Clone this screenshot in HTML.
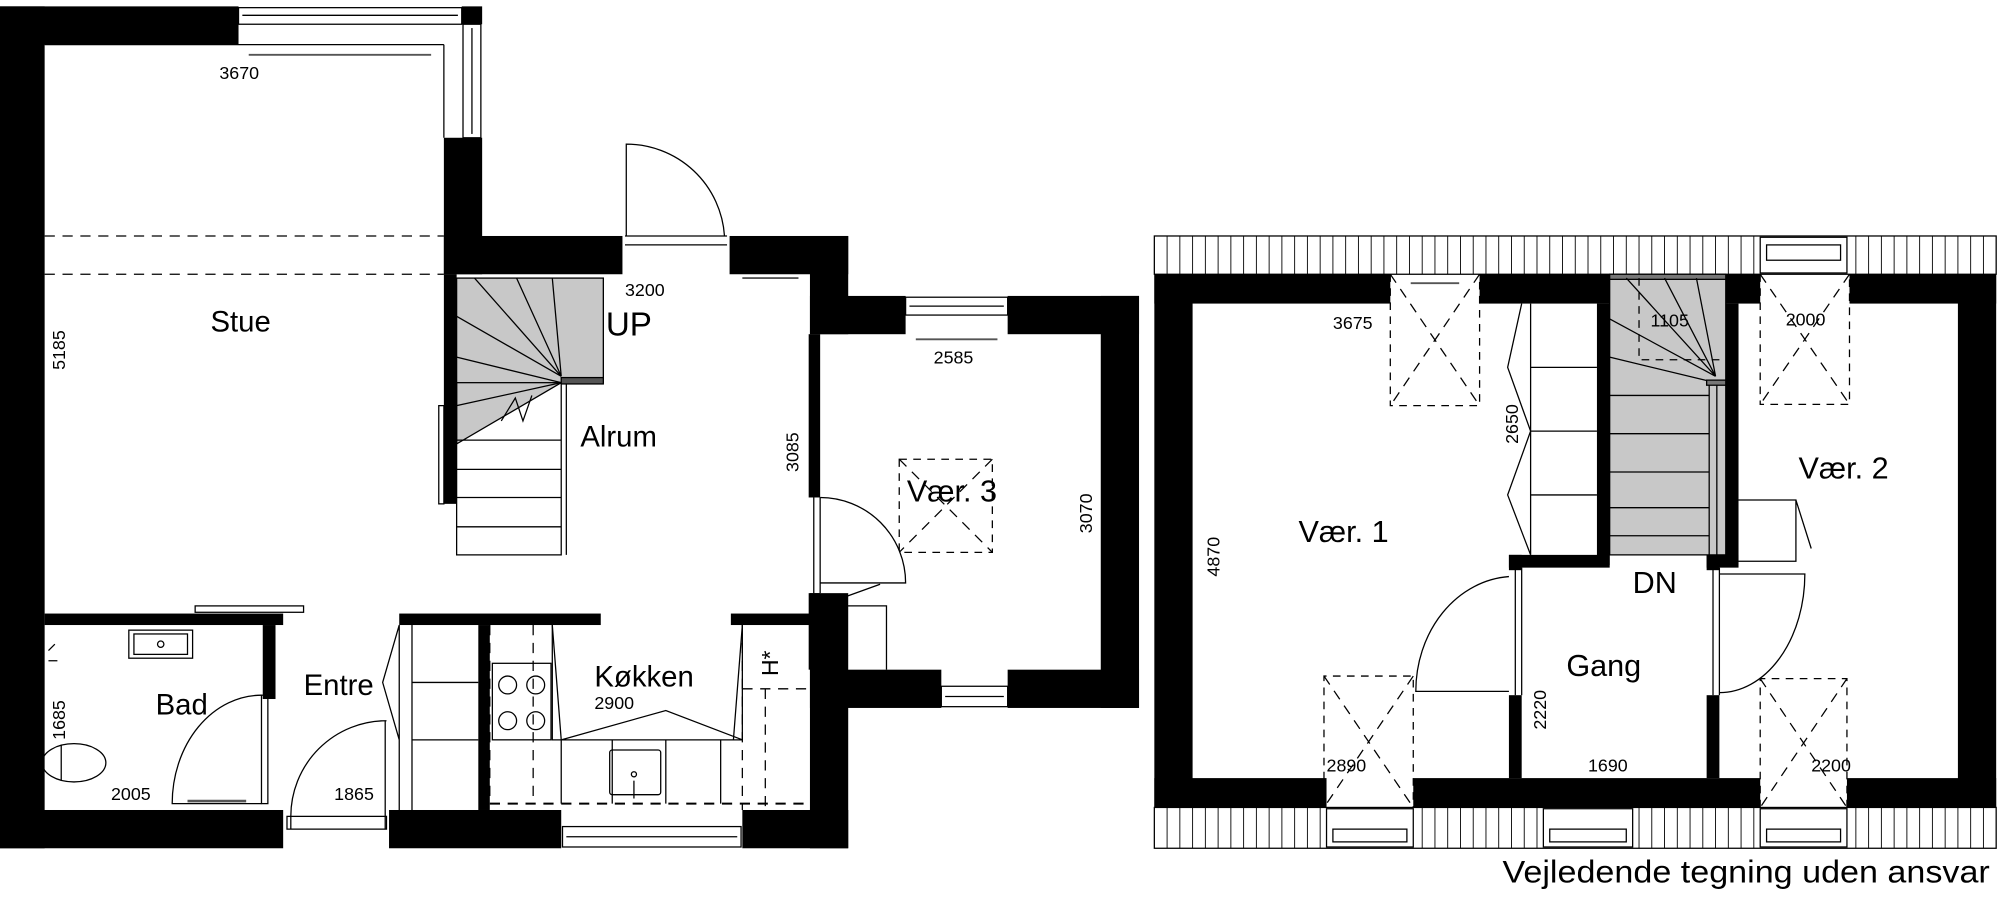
<!DOCTYPE html>
<html><head><meta charset="utf-8"><style>
html,body{margin:0;padding:0;background:#fff;}
svg{display:block;}
text{font-family:"Liberation Sans",sans-serif;fill:#000;}
</style></head><body>
<svg width="2000" height="910" viewBox="0 0 1568 713.4" preserveAspectRatio="none" xmlns="http://www.w3.org/2000/svg">
<rect width="1568" height="713.4" fill="#fff"/>
<g fill="#000">
<rect x="0" y="5" width="35" height="660"/>
<rect x="0" y="5" width="187" height="30"/>
<rect x="362" y="5" width="16" height="14"/>
<rect x="348" y="108" width="30" height="107"/>
<rect x="348" y="185" width="140" height="30"/>
<rect x="572" y="185" width="93" height="30"/>
<rect x="635" y="185" width="30" height="77"/>
<rect x="635" y="232" width="75" height="30"/>
<rect x="790" y="232" width="103" height="30"/>
<rect x="863" y="232" width="30" height="323"/>
<rect x="635" y="525" width="103" height="30"/>
<rect x="790" y="525" width="103" height="30"/>
<rect x="634" y="262" width="9" height="128"/>
<rect x="634" y="465" width="9" height="60"/>
<rect x="635" y="465" width="30" height="200"/>
<rect x="0" y="635" width="222" height="30"/>
<rect x="305" y="635" width="135" height="30"/>
<rect x="582" y="635" width="83" height="30"/>
<rect x="35" y="481" width="187" height="9"/>
<rect x="206" y="490" width="10" height="58"/>
<rect x="313" y="481" width="158" height="9"/>
<rect x="573" y="481" width="62" height="9"/>
<rect x="375" y="490" width="9" height="145"/>
<rect x="348" y="215" width="10" height="180"/>
<rect x="905" y="215" width="185" height="23"/>
<rect x="1160" y="215" width="102" height="23"/>
<rect x="1353" y="215" width="27" height="23"/>
<rect x="1450" y="215" width="115" height="23"/>
<rect x="905" y="215" width="30" height="418"/>
<rect x="1535" y="215" width="30" height="418"/>
<rect x="905" y="610" width="135" height="23"/>
<rect x="1108" y="610" width="272" height="23"/>
<rect x="1448" y="610" width="117" height="23"/>
<rect x="1252" y="238" width="10" height="205"/>
<rect x="1353" y="238" width="10" height="205"/>
<rect x="1183" y="435" width="79" height="10"/>
<rect x="1338" y="435" width="25" height="10"/>
<rect x="1183" y="435" width="10" height="12"/>
<rect x="1183" y="545" width="10" height="65"/>
<rect x="1338" y="435" width="10" height="12"/>
<rect x="1338" y="545" width="10" height="65"/>
</g>
<g fill="none" stroke="#000" stroke-width="1">
<rect x="187" y="6" width="175" height="13"/><line x1="190" y1="12" x2="359" y2="12"/>
<rect x="363" y="19" width="14" height="89"/><line x1="370" y1="22" x2="370" y2="105"/>
<line x1="35" y1="35" x2="348" y2="35"/><line x1="348" y1="35" x2="348" y2="108"/>
<line x1="195" y1="43" x2="338" y2="43" stroke-width="1.5" stroke="#555"/>
<line x1="35" y1="185" x2="348" y2="185" stroke-dasharray="8,6"/>
<line x1="35" y1="215" x2="348" y2="215" stroke-dasharray="8,6"/>
<line x1="490" y1="185" x2="570" y2="185"/><line x1="490" y1="192" x2="570" y2="192"/>
<path d="M491 185 V113 A77 77 0 0 1 568 185"/>
<line x1="582" y1="218" x2="626" y2="218" stroke-width="1.5" stroke="#555"/>
<rect x="358" y="218" width="115" height="82" fill="#c8c8c8"/>
<path d="M358 218 H473 V300 H440 L358 348 Z" fill="#c8c8c8"/>
<path d="M372 218 L440 295 M405 218 L440 295 M433 218 L440 295 M358 248 L440 295 M358 280 L440 300 M358 318 L440 300"/>
<path d="M393 330 L404 312 L410 330 L417 310" />
<rect x="358" y="300" width="82" height="135"/>
<line x1="358" y1="345" x2="440" y2="345"/><line x1="358" y1="368" x2="440" y2="368"/><line x1="358" y1="390" x2="440" y2="390"/><line x1="358" y1="413" x2="440" y2="413"/>
<line x1="444" y1="300" x2="444" y2="435"/>
<rect x="440" y="296" width="33" height="5" fill="#555"/>
<rect x="344" y="318" width="4" height="77"/>
<rect x="710" y="233" width="80" height="14"/><line x1="713" y1="240" x2="787" y2="240"/>
<line x1="718" y1="266" x2="782" y2="266" stroke-width="1.5" stroke="#555"/>
<rect x="738" y="538" width="52" height="16"/><line x1="741" y1="546" x2="787" y2="546"/>
<rect x="705" y="360" width="73" height="73" stroke-dasharray="6,5"/>
<path d="M705 360 L778 433 M778 360 L705 433" stroke-dasharray="8,6"/>
<line x1="643" y1="390" x2="643" y2="465"/><line x1="638" y1="390" x2="638" y2="465"/>
<path d="M643 390 A67 67 0 0 1 710 457 H643"/>
<path d="M643 475 L690 458 M643 475 H695 V525"/>
<rect x="153" y="475" width="85" height="5"/>
<rect x="101" y="494" width="50" height="22"/><rect x="105" y="497" width="42" height="16"/>
<circle cx="126" cy="505" r="2.5"/>
<ellipse cx="58" cy="598" rx="25" ry="15"/><path d="M48 584 V612"/>
<path d="M38 510 L43 505 M38 518 H45"/>
<path d="M205 545 A70 85 0 0 0 135 630 H205"/>
<rect x="205" y="545" width="5" height="85"/>
<line x1="147" y1="628" x2="193" y2="628" stroke-width="2" stroke="#555"/>
<rect x="212" y="502" width="3" height="40"/>
<path d="M303 565 A75 75 0 0 0 228 640"/>
<line x1="228" y1="640" x2="228" y2="650"/><line x1="302" y1="565" x2="302" y2="650"/>
<rect x="225" y="640" width="78" height="10"/>
<path d="M313 490 V635 M313 490 L300 535 L313 580 M323 490 V635 M323 535 H375 M323 580 H375"/>
<path d="M384 490 V630 M418 490 V630" stroke-dasharray="8,6"/>
<rect x="386" y="520" width="46" height="60"/>
<circle cx="398" cy="537" r="7"/><circle cx="420" cy="537" r="7"/><circle cx="398" cy="565" r="7"/><circle cx="420" cy="565" r="7"/>
<path d="M433 490 V580 H582 V490 M440 580 L522 557 L582 580 M440 580 V630 M480 580 V630 M522 580 V630 M565 580 V630"/>
<rect x="478" y="588" width="40" height="35" rx="2"/><circle cx="497" cy="607" r="2"/><line x1="497" y1="612" x2="497" y2="626"/>
<path d="M433 490 L440 580 M582 490 L575 580"/>
<path d="M384 630 H635" stroke-dasharray="8,6" stroke-width="1.5"/>
<path d="M582 490 V635 M582 540 H635 M600 540 V635" stroke-dasharray="8,6"/>
<rect x="441" y="648" width="140" height="16"/><line x1="444" y1="656" x2="578" y2="656"/>
<rect x="905" y="185" width="660" height="30"/>
<rect x="905" y="633" width="660" height="32"/>
</g>
<g stroke="#000" stroke-width="0.7">
<path d="M915 185V215M925 185V215M935 185V215M945 185V215M955 185V215M965 185V215M975 185V215M985 185V215M995 185V215M1005 185V215M1015 185V215M1025 185V215M1035 185V215M1045 185V215M1055 185V215M1065 185V215M1075 185V215M1085 185V215M1095 185V215M1105 185V215M1115 185V215M1125 185V215M1135 185V215M1145 185V215M1155 185V215M1165 185V215M1175 185V215M1185 185V215M1195 185V215M1205 185V215M1215 185V215M1225 185V215M1235 185V215M1245 185V215M1255 185V215M1265 185V215M1275 185V215M1285 185V215M1295 185V215M1305 185V215M1315 185V215M1325 185V215M1335 185V215M1345 185V215M1355 185V215M1365 185V215M1375 185V215M1455 185V215M1465 185V215M1475 185V215M1485 185V215M1495 185V215M1505 185V215M1515 185V215M1525 185V215M1535 185V215M1545 185V215M1555 185V215"/>
<path d="M915 633V665M925 633V665M935 633V665M945 633V665M955 633V665M965 633V665M975 633V665M985 633V665M995 633V665M1005 633V665M1015 633V665M1025 633V665M1035 633V665M1115 633V665M1125 633V665M1135 633V665M1145 633V665M1155 633V665M1165 633V665M1175 633V665M1185 633V665M1195 633V665M1205 633V665M1285 633V665M1295 633V665M1305 633V665M1315 633V665M1325 633V665M1335 633V665M1345 633V665M1355 633V665M1365 633V665M1375 633V665M1455 633V665M1465 633V665M1475 633V665M1485 633V665M1495 633V665M1505 633V665M1515 633V665M1525 633V665M1535 633V665M1545 633V665M1555 633V665"/>
</g>
<g fill="#fff" stroke="#000" stroke-width="1">
<rect x="1380" y="186" width="68" height="28"/><rect x="1385" y="192" width="58" height="12"/>
<rect x="1040" y="634" width="68" height="30"/><rect x="1045" y="650" width="58" height="10"/>
<rect x="1210" y="634" width="70" height="30"/><rect x="1215" y="650" width="60" height="10"/>
<rect x="1380" y="634" width="68" height="30"/><rect x="1385" y="650" width="58" height="10"/>
</g>
<g fill="none" stroke="#000" stroke-width="1">
<path d="M1090 215 V318 H1160 V215" stroke-dasharray="6,5"/><path d="M1090 215 L1160 318 M1160 215 L1090 318" stroke-dasharray="8,6"/>
<path d="M1380 215 V317 H1450 V215" stroke-dasharray="6,5"/><path d="M1380 215 L1450 317 M1450 215 L1380 317" stroke-dasharray="8,6"/>
<path d="M1038 633 V530 H1108 V633" stroke-dasharray="6,5"/><path d="M1038 530 L1108 633 M1108 530 L1038 633" stroke-dasharray="8,6"/>
<path d="M1380 633 V532 H1448 V633" stroke-dasharray="6,5"/><path d="M1380 532 L1448 633 M1448 532 L1380 633" stroke-dasharray="8,6"/>
<line x1="1106" y1="222" x2="1144" y2="222" stroke-width="1.5" stroke="#555"/>
<path d="M1200 238 V435 M1200 288 H1252 M1200 338 H1252 M1200 388 H1252 M1193 238 L1182 288 L1200 338 L1182 388 L1200 435"/>
<rect x="1262" y="218" width="91" height="217" fill="#c8c8c8"/>
<rect x="1262" y="215" width="91" height="4" fill="#777"/>
<path d="M1262 310 H1340 M1262 340 H1340 M1262 370 H1340 M1262 398 H1340 M1262 420 H1340 M1340 300 V435 M1346 300 V435"/>
<path d="M1275 218 L1345 295 M1305 218 L1345 295 M1330 218 L1345 295 M1262 250 L1345 295 M1262 280 L1345 300"/>
<path d="M1285 218 V282 H1353" stroke-dasharray="6,5"/>
<rect x="1338" y="298" width="15" height="4" fill="#777"/>
<path d="M1183 452 A78 90 0 0 0 1110 542 H1183"/><line x1="1188" y1="445" x2="1188" y2="545"/><line x1="1193" y1="445" x2="1193" y2="545"/>
<path d="M1348 450 H1415 A67 93 0 0 1 1348 543"/><line x1="1343" y1="445" x2="1343" y2="545"/><line x1="1348" y1="445" x2="1348" y2="545"/>
<path d="M1363 392 H1408 V440 H1363 M1408 392 L1420 430"/>
</g>
<g font-size="23">
<text x="165" y="260">Stue</text>
<text x="475" y="263" font-size="26">UP</text>
<text x="455" y="350">Alrum</text>
<text x="711" y="393" font-size="24">Vær. 3</text>
<text x="122" y="560">Bad</text>
<text x="238" y="545">Entre</text>
<text x="466" y="538">Køkken</text>
<text x="1018" y="425" font-size="24">Vær. 1</text>
<text x="1410" y="375" font-size="24">Vær. 2</text>
<text x="1280" y="465" font-size="24">DN</text>
<text x="1228" y="530" font-size="24">Gang</text>
</g>
<g font-size="14">
<text x="172" y="62">3670</text>
<text x="490" y="232">3200</text>
<text x="732" y="285">2585</text>
<text x="466" y="556">2900</text>
<text x="87" y="627">2005</text>
<text x="262" y="627">1865</text>
<text x="1045" y="258">3675</text>
<text x="1294" y="256">1105</text>
<text x="1400" y="255">2000</text>
<text x="1040" y="605">2890</text>
<text x="1245" y="605">1690</text>
<text x="1420" y="605">2200</text>
<text transform="translate(51,290) rotate(-90)">5185</text>
<text transform="translate(626,370) rotate(-90)">3085</text>
<text transform="translate(856,418) rotate(-90)">3070</text>
<text transform="translate(51,580) rotate(-90)">1685</text>
<text transform="translate(956,452) rotate(-90)">4870</text>
<text transform="translate(1190,348) rotate(-90)">2650</text>
<text transform="translate(1212,572) rotate(-90)">2220</text>
<text transform="translate(610,530) rotate(-90)" font-size="18">H*</text>
</g>
<text x="1178" y="692" font-size="25" textLength="382" lengthAdjust="spacingAndGlyphs">Vejledende tegning uden ansvar</text>
</svg>
</body></html>
